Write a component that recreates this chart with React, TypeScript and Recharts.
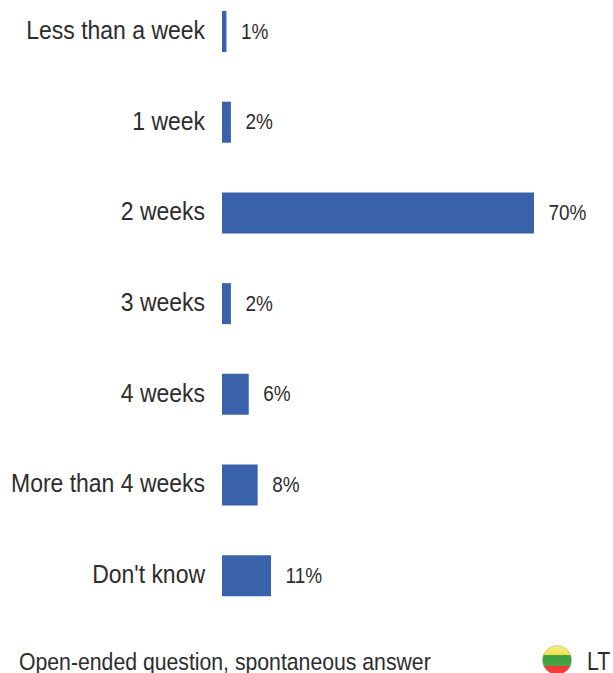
import React from "react";
import { BarChart, Bar, XAxis, YAxis, LabelList } from "recharts";

const categories = [
  "Less than a week",
  "1 week",
  "2 weeks",
  "3 weeks",
  "4 weeks",
  "More than 4 weeks",
  "Don't know",
];
const shares = [1, 2, 70, 2, 6, 8, 11];

const chartData = categories.map((name, i) => ({ name, share: shares[i] }));

const FONT = '"Liberation Sans", Arial, sans-serif';
const INK = "#2d2d2d";
const BAR_BLUE = "#3a62ab";
// The type is set condensed
const SQUEEZE = 0.87;

function CategoryTick({ x, y, payload }: any) {
  return (
    <text
      transform={`translate(${x},${y + 7.5}) scale(${SQUEEZE},1)`}
      textAnchor="end"
      fontFamily={FONT}
      fontSize={26.4}
      fill={INK}
    >
      {payload.value}
    </text>
  );
}

function ShareLabel({ x, y, width, height, value }: any) {
  return (
    <text
      transform={`translate(${x + width + 14.5},${y + height / 2 + 7}) scale(${SQUEEZE},1)`}
      fontFamily={FONT}
      fontSize={21.8}
      fill={INK}
    >
      {value}%
    </text>
  );
}

function FlagBadge() {
  return (
    <svg width={34} height={30} style={{ position: "absolute", left: 540, top: 643 }}>
      <defs>
        <clipPath id="ball">
          <circle cx={17} cy={17} r={14.5} />
        </clipPath>
        <linearGradient id="shine" x1="0" y1="0" x2="0" y2="1">
          <stop offset="0" stopColor="#ffffff" stopOpacity={0.5} />
          <stop offset="0.4" stopColor="#ffffff" stopOpacity={0} />
          <stop offset="1" stopColor="#ffffff" stopOpacity={0.12} />
        </linearGradient>
      </defs>
      <g clipPath="url(#ball)">
        <rect x={0} y={0} width={34} height={12} fill="#eee23a" />
        <rect x={0} y={12} width={34} height={11} fill="#3f9f3c" />
        <rect x={0} y={23} width={34} height={11} fill="#f22b2b" />
        <rect x={0} y={0} width={34} height={34} fill="url(#shine)" />
      </g>
      <circle cx={17} cy={17} r={14.5} fill="none" stroke="#9a9a9a" strokeOpacity={0.4} />
    </svg>
  );
}

export default function App() {
  return (
    <div
      style={{
        position: "absolute",
        left: 0,
        top: 0,
        width: 613,
        height: 673,
        overflow: "hidden",
        background: "#ffffff",
      }}
    >
      <div style={{ position: "absolute", left: 0, top: -14.5 }}>
        <BarChart
          layout="vertical"
          width={613}
          height={635}
          data={chartData}
          margin={{ top: 0, right: 79, bottom: 0, left: 0 }}
        >
          <XAxis type="number" domain={[0, 70]} hide />
          <YAxis
            type="category"
            dataKey="name"
            width={222}
            axisLine={false}
            tickLine={false}
            tickMargin={0}
            interval={0}
            tick={(props: any) => <CategoryTick {...props} x={205} />}
          />
          <Bar dataKey="share" fill={BAR_BLUE} barSize={41} isAnimationActive={false}>
            <LabelList dataKey="share" content={ShareLabel} />
          </Bar>
        </BarChart>
      </div>
      <div
        style={{
          position: "absolute",
          left: 19,
          top: 651,
          fontFamily: FONT,
          fontSize: 24.4,
          lineHeight: "22px",
          color: INK,
          whiteSpace: "nowrap",
          transform: `scaleX(${SQUEEZE})`,
          transformOrigin: "0 0",
        }}
      >
        Open-ended question, spontaneous answer
      </div>
      <FlagBadge />
      <div
        style={{
          position: "absolute",
          left: 587,
          top: 650,
          fontFamily: FONT,
          fontSize: 25,
          lineHeight: "23px",
          color: INK,
          transform: "scaleX(0.85)",
          transformOrigin: "0 0",
        }}
      >
        LT
      </div>
    </div>
  );
}
